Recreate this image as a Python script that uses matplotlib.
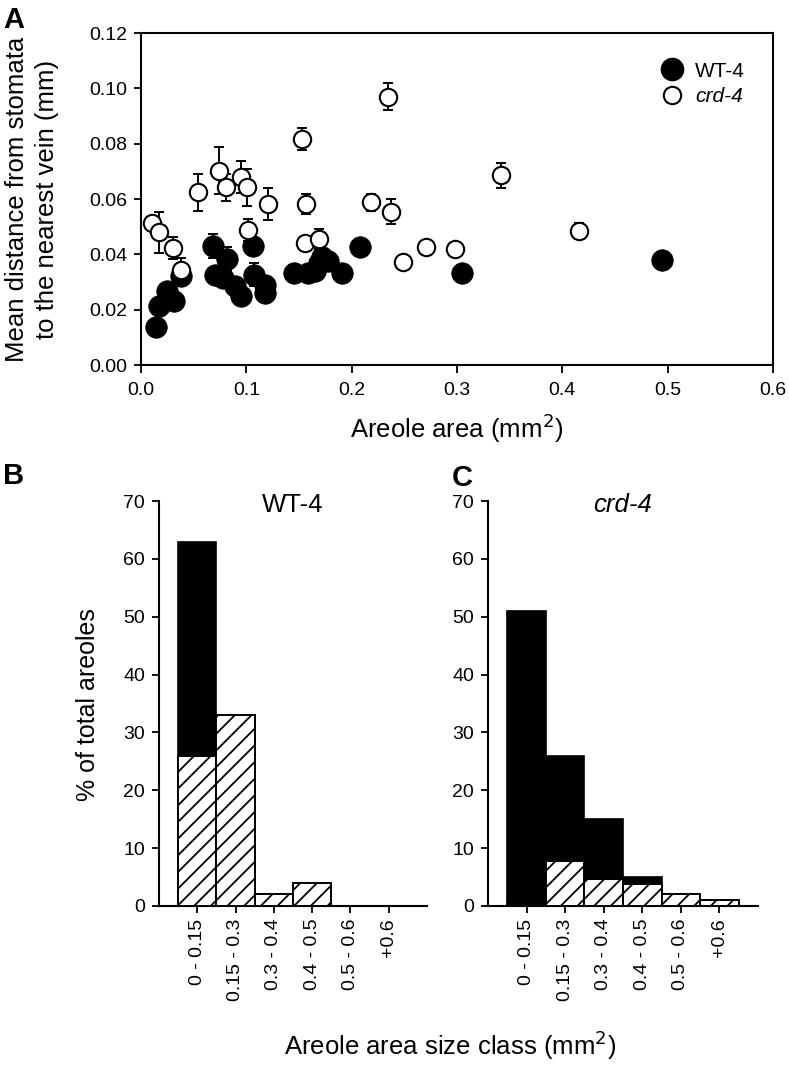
import matplotlib
matplotlib.use("Agg")
import matplotlib.pyplot as plt
from matplotlib.lines import Line2D

plt.rcParams['font.family'] = ['Liberation Sans', 'DejaVu Sans']
plt.rcParams['hatch.linewidth'] = 1.3

# ---------------- Panel A data ----------------
wt_area = [0.0147, 0.017, 0.025, 0.031, 0.038, 0.068, 0.070, 0.078, 0.082, 0.089,
           0.095, 0.106, 0.107, 0.118, 0.118, 0.145, 0.159, 0.165, 0.169, 0.172,
           0.178, 0.191, 0.2077, 0.305, 0.495]
wt_dist = [0.0139, 0.0212, 0.0267, 0.0230, 0.0321, 0.0430, 0.0324, 0.0315, 0.0382, 0.0285,
           0.0248, 0.0430, 0.0327, 0.0290, 0.0260, 0.0333, 0.0333, 0.0340, 0.0370, 0.0392,
           0.0376, 0.0333, 0.0428, 0.0331, 0.0380]
wt_err = [0.002, 0.002, 0.002, 0.002, 0.002, 0.0044, 0.002, 0.002, 0.0044, 0.002,
          0.002, 0.002, 0.0043, 0.002, 0.002, 0.003, 0.002, 0.002, 0.002, 0.002,
          0.002, 0.002, 0.002, 0.002, 0.002]

crd_area = [0.0105, 0.017, 0.030, 0.0377, 0.054, 0.0744, 0.081, 0.095, 0.101, 0.1016,
            0.121, 0.153, 0.157, 0.156, 0.169, 0.218, 0.2345, 0.237, 0.249, 0.271,
            0.298, 0.342, 0.416]
crd_dist = [0.0513, 0.0479, 0.0424, 0.0343, 0.0624, 0.0703, 0.0642, 0.0679, 0.0642, 0.0488,
            0.0582, 0.0816, 0.0582, 0.0442, 0.0455, 0.0588, 0.0970, 0.0554, 0.0373, 0.0427,
            0.0418, 0.0685, 0.0485]
crd_err = [0.002, 0.0075, 0.004, 0.0045, 0.0067, 0.0085, 0.005, 0.0057, 0.0066, 0.004,
           0.0057, 0.004, 0.0036, 0.001, 0.0036, 0.003, 0.005, 0.0046, 0.0, 0.0,
           0.0, 0.0045, 0.003]

xticks_a = [0.0, 0.1, 0.2, 0.3, 0.4, 0.5, 0.6]
xticklabels_a = ['0.0', '0.1', '0.2', '0.3', '0.4', '0.5', '0.6']
yticks_a = [0.00, 0.02, 0.04, 0.06, 0.08, 0.10, 0.12]
yticklabels_a = ['0.00', '0.02', '0.04', '0.06', '0.08', '0.10', '0.12']

# ---------------- Panels B, C data ----------------
size_classes = ['0 - 0.15', '0.15 - 0.3', '0.3 - 0.4', '0.4 - 0.5', '0.5 - 0.6', '+0.6']
wt_solid = [63, 33, 2, 4, 0, 0]
wt_hatched = [26, 33, 2, 4, 0, 0]
crd_solid = [51, 26, 15, 5, 2, 1]
crd_hatched = [0.3, 7.7, 4.7, 3.8, 2, 1]
yticks_h = [0, 10, 20, 30, 40, 50, 60, 70]

W, H = 789, 1066
fig = plt.figure(figsize=(W / 100, H / 100), dpi=100)


def px_axes(left, top, right, bottom):
    return fig.add_axes([left / W, 1 - bottom / H, (right - left) / W, (bottom - top) / H])


# ---------------- Panel A ----------------
axA = px_axes(141, 33, 773, 365)
axA.errorbar(wt_area, wt_dist, yerr=wt_err, fmt='none', ecolor='black',
             elinewidth=1.4, capsize=3.5, capthick=1.4, zorder=2)
axA.plot(wt_area, wt_dist, 'o', ms=15.5, mfc='black', mec='black', mew=0.5, zorder=3)
axA.errorbar(crd_area, crd_dist, yerr=crd_err, fmt='none', ecolor='black',
             elinewidth=1.4, capsize=3.5, capthick=1.4, zorder=4)
axA.plot(crd_area, crd_dist, 'o', ms=12.5, mfc='white', mec='black', mew=1.5, zorder=5)

axA.set_xlim(0, 0.6)
axA.set_ylim(0, 0.12)
axA.set_xticks(xticks_a)
axA.set_xticklabels(xticklabels_a)
axA.set_yticks(yticks_a)
axA.set_yticklabels(yticklabels_a)
axA.tick_params(axis='x', direction='out', length=5.5, width=1.3, pad=7, labelsize=14)
axA.tick_params(axis='y', direction='out', length=5, width=1.3, pad=5, labelsize=14)
for s in axA.spines.values():
    s.set_linewidth(1.5)
axA.set_xlabel('Areole area (mm$^2$)', fontsize=18.5, labelpad=9)

handles = [Line2D([], [], ls='none', marker='o', ms=16, mfc='black', mec='black'),
           Line2D([], [], ls='none', marker='o', ms=12.5, mfc='white', mec='black', mew=1.5)]
leg = axA.legend(handles, ['WT-4', 'crd-4'], loc='upper right',
                 bbox_to_anchor=(0.972, 0.945), frameon=False, fontsize=15,
                 handletextpad=0.5, labelspacing=0.3, borderpad=0, handlelength=1.2)
leg.get_texts()[1].set_fontstyle('italic')

fig.text(32 / W, 1 - 199 / H, 'Mean distance from stomata\nto the nearest vein (mm)',
         rotation=90, ha='center', va='center', fontsize=18.5, linespacing=1.3,
         multialignment='center')
fig.text(3 / W, 1 - 6 / H, 'A', fontsize=21, fontweight='bold', ha='left', va='top')

# ---------------- Panels B & C ----------------
def hist_panel(ax, solid, hatched, title, italic):
    pos = list(range(len(size_classes)))
    ax.bar(pos, solid, width=1.0, color='black', edgecolor='black', linewidth=1.2, zorder=2)
    ax.bar(pos, hatched, width=1.0, facecolor='white', edgecolor='black',
           hatch='//', linewidth=1.4, zorder=3)
    ax.set_xlim(-1, 6)
    ax.set_ylim(0, 70)
    ax.set_yticks(yticks_h)
    ax.set_xticks(pos)
    ax.set_xticklabels(size_classes, rotation=90, va='top', ha='center')
    ax.tick_params(axis='x', direction='out', length=5, width=1.3, pad=4, labelsize=14)
    ax.tick_params(axis='y', direction='out', length=5, width=1.3, pad=5, labelsize=14)
    ax.spines['top'].set_visible(False)
    ax.spines['right'].set_visible(False)
    ax.spines['left'].set_linewidth(1.5)
    ax.spines['bottom'].set_linewidth(1.5)
    ax.text(0.5, 0.99, title, transform=ax.transAxes, ha='center', va='center',
            fontsize=18.5, fontstyle='italic' if italic else 'normal')


axB = px_axes(159, 501, 427, 906)
hist_panel(axB, wt_solid, wt_hatched, 'WT-4', False)

axC = px_axes(488, 501, 758, 906)
hist_panel(axC, crd_solid, crd_hatched, 'crd-4', True)

fig.text(88 / W, 1 - 705 / H, '% of total areoles', rotation=90, fontsize=18,
         ha='center', va='center')
fig.text(3 / W, 1 - 462 / H, 'B', fontsize=21, fontweight='bold', ha='left', va='top')
fig.text(452 / W, 1 - 464 / H, 'C', fontsize=21, fontweight='bold', ha='left', va='top')
fig.text(450 / W, 1 - 1045 / H, 'Areole area size class (mm$^2$)', fontsize=18.5,
         ha='center', va='center')

fig.savefig('out.png', dpi=100)
